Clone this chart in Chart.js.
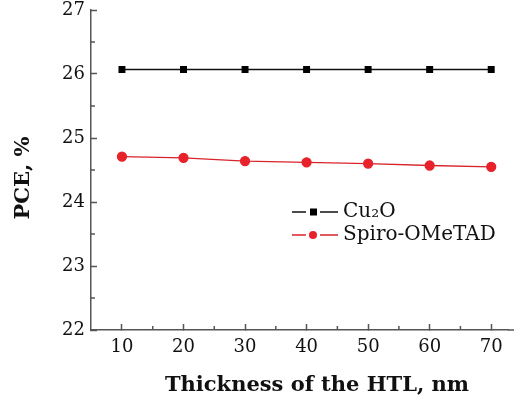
<!DOCTYPE html>
<html>
<head>
<meta charset="utf-8">
<script src="https://cdn.jsdelivr.net/npm/chart.js@4/dist/chart.umd.min.js"></script>
<style>
  body { margin: 0; background: #fff; }
  canvas { display: block; }
</style>
</head>
<body>
<canvas id="myChart" width="514" height="405"></canvas>
<script>
// data
const thickness = [10, 20, 30, 40, 50, 60, 70];
const cu2o = [26.07, 26.07, 26.07, 26.07, 26.07, 26.07, 26.07];
const spiro = [24.71, 24.69, 24.64, 24.62, 24.60, 24.57, 24.55];

const xTicks = [10, 20, 30, 40, 50, 60, 70];
const xMinor = [15, 25, 35, 45, 55, 65];
const yTicks = [22, 23, 24, 25, 26, 27];
const yMinor = [22.5, 23.5, 24.5, 25.5, 26.5];

const seriesNames = ['Cu₂O', 'Spiro-OMeTAD'];
const xTitle = 'Thickness of the HTL, nm';
const yTitle = 'PCE, %';

const FONT = "'DejaVu Serif', serif";
const axisColor = '#555';

// small inner ticks, titles and legend box
const extras = {
  id: 'extras',
  afterDraw(chart) {
    const c = chart.ctx, xs = chart.scales.x, ys = chart.scales.y, a = chart.chartArea;
    c.save();
    c.strokeStyle = axisColor;
    c.lineWidth = 1.5;
    c.beginPath();
    xMinor.forEach(v => { let px = xs.getPixelForValue(v); c.moveTo(px, a.bottom); c.lineTo(px, a.bottom - 4); });
    yMinor.forEach(v => { let py = ys.getPixelForValue(v); c.moveTo(a.left, py); c.lineTo(a.left + 4, py); });
    // x axis runs on to the right edge like in the picture
    c.moveTo(a.right, a.bottom); c.lineTo(chart.width, a.bottom);
    c.stroke();

    // axis titles
    c.fillStyle = '#111';
    c.font = 'bold 21px ' + FONT;
    c.textAlign = 'center';
    c.textBaseline = 'middle';
    c.fillText(xTitle, 317, 386);
    c.translate(24, 178);
    c.rotate(-Math.PI / 2);
    c.fillText(yTitle, 0, 0);
    c.restore();

    // legend
    c.save();
    c.font = '20px ' + FONT;
    c.textBaseline = 'middle';
    c.textAlign = 'left';
    chart.data.datasets.forEach((ds, i) => {
      let y = 212 + i * 23;
      c.strokeStyle = ds.borderColor;
      c.lineWidth = 1.3;
      c.beginPath(); c.moveTo(292, y); c.lineTo(306, y); c.moveTo(320, y); c.lineTo(338, y); c.stroke();
      c.fillStyle = ds.pointBackgroundColor;
      if (ds.pointStyle === 'rect') c.fillRect(310, y - 3.5, 7, 7);
      else { c.beginPath(); c.arc(313, y, 4, 0, Math.PI * 2); c.fill(); }
      c.fillStyle = '#111';
      c.fillText(ds.label, 343, y);
    });
    c.restore();
  }
};

new Chart(document.getElementById('myChart'), {
  type: 'line',
  data: {
    labels: thickness,
    datasets: [
      {
        label: seriesNames[0],
        data: thickness.map((t, i) => ({ x: t, y: cu2o[i] })),
        borderColor: '#111',
        backgroundColor: '#000',
        pointBackgroundColor: '#000',
        pointBorderColor: '#000',
        pointStyle: 'rect',
        pointRadius: 4,
        borderWidth: 1.3
      },
      {
        label: seriesNames[1],
        data: thickness.map((t, i) => ({ x: t, y: spiro[i] })),
        borderColor: '#d9232b',
        backgroundColor: '#e8222b',
        pointBackgroundColor: '#e8222b',
        pointBorderColor: '#e8222b',
        pointStyle: 'circle',
        pointRadius: 4.5,
        borderWidth: 1.3
      }
    ]
  },
  options: {
    responsive: false,
    animation: false,
    devicePixelRatio: 1,
    layout: { padding: { top: 10, right: 0, bottom: 0, left: 0 } },
    plugins: { legend: { display: false }, tooltip: { enabled: false } },
    scales: {
      x: {
        type: 'linear',
        min: 4.97,
        max: 72.76,
        afterBuildTicks: s => { s.ticks = xTicks.map(v => ({ value: v })); },
        afterFit: s => { s.height = 75; s.paddingLeft = 0; s.paddingRight = 0; },
        ticks: { color: '#111', font: { family: FONT, size: 18 }, padding: 13, maxRotation: 0 },
        grid: { drawOnChartArea: false, tickLength: -6, tickColor: axisColor, tickWidth: 1.5 },
        border: { color: axisColor, width: 1.5 }
      },
      y: {
        min: 22,
        max: 27,
        afterBuildTicks: s => { s.ticks = yTicks.map(v => ({ value: v })); },
        afterFit: s => { s.width = 91; s.paddingTop = 0; s.paddingBottom = 0; },
        ticks: { color: '#111', font: { family: FONT, size: 18 }, padding: 12 },
        grid: { drawOnChartArea: false, tickLength: -6, tickColor: axisColor, tickWidth: 1.5 },
        border: { color: axisColor, width: 1.5 }
      }
    }
  },
  plugins: [extras]
});
</script>
</body>
</html>
